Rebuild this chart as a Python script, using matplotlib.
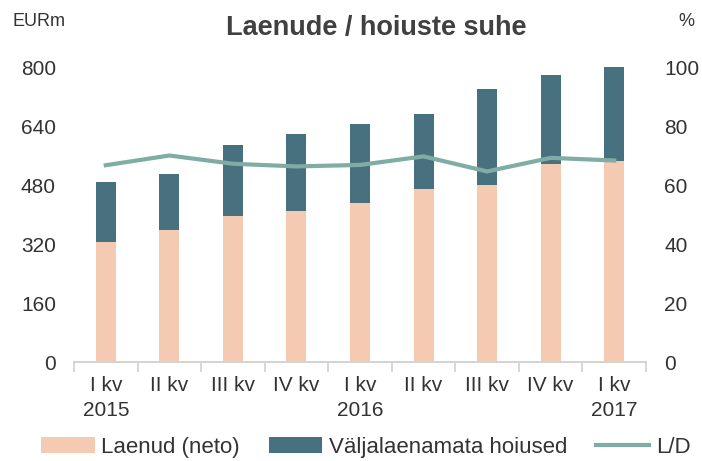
import numpy as np
import matplotlib.pyplot as plt

quarters = ["I kv\n2015", "II kv", "III kv", "IV kv", "I kv\n2016",
            "II kv", "III kv", "IV kv", "I kv\n2017"]
loans = [326, 357, 396, 409, 431, 469, 479, 538, 546]
deposits_total = [489, 510, 589, 617, 645, 673, 741, 777, 799]
ld_ratio = [66.7, 70.0, 67.2, 66.3, 66.8, 69.7, 64.6, 69.2, 68.3]

c_loans = "#F4CBB2"
c_dep = "#47717E"
c_line = "#7FADA5"
txt = "#333333"
axis_gray = "#D4D4D4"


def main():
    plt.rcParams["font.family"] = ["Liberation Sans", "DejaVu Sans"]
    fig = plt.figure(figsize=(7.02, 4.61), dpi=100)
    ax = fig.add_axes([74 / 702, 1 - 362 / 461, (646 - 74) / 702, (362 - 67) / 461])

    x = np.arange(len(quarters))
    unused = [t - l for t, l in zip(deposits_total, loans)]
    w = 0.315
    ax.bar(x, loans, w, color=c_loans, label="Laenud (neto)")
    ax.bar(x, unused, w, bottom=loans, color=c_dep, label="Väljalaenamata hoiused")

    ax.set_xlim(-0.5, len(quarters) - 0.5)
    ax.set_ylim(0, 800)
    ax.set_yticks(range(0, 801, 160))

    ax2 = ax.twinx()
    ax2.plot(x, ld_ratio, color=c_line, lw=3, label="L/D")
    ax2.set_ylim(0, 100)
    ax2.set_yticks(range(0, 101, 20))

    for a in (ax, ax2):
        for s in ("top", "left", "right"):
            a.spines[s].set_visible(False)
        a.spines["bottom"].set_color(axis_gray)
        a.spines["bottom"].set_linewidth(1.3)
        a.tick_params(axis="y", length=0, labelsize=15, colors=txt, pad=13)

    ax.set_xticks(x)
    ax.set_xticklabels(quarters, fontsize=15, color=txt, linespacing=1.4)
    ax.tick_params(axis="x", length=0, pad=10)
    ax.set_xticks(np.arange(-0.5, len(quarters)), minor=True)
    ax.tick_params(axis="x", which="minor", length=7, width=1.3, color=axis_gray)

    fig.text(12 / 702, 1 - 22 / 461, "EURm", fontsize=13, color=txt, va="center")
    fig.text(694 / 702, 1 - 22 / 461, "%", fontsize=13, color=txt, va="center", ha="right")
    fig.text(376 / 702, 1 - 28 / 461, "Laenude / hoiuste suhe", fontsize=19.5,
             fontweight="bold", color="#404040", ha="center", va="center")

    h1, l1 = ax.get_legend_handles_labels()
    h2, l2 = ax2.get_legend_handles_labels()
    fig.legend(h1 + h2, l1 + l2, loc="center", bbox_to_anchor=(366 / 702, 1 - 447 / 461),
               ncol=3, frameon=False, fontsize=16, handlelength=2.4,
               columnspacing=1.3, handletextpad=0.3, labelcolor=txt,
               borderpad=0, borderaxespad=0)

    fig.savefig("out.png", dpi=100)


if __name__ == "__main__":
    main()
